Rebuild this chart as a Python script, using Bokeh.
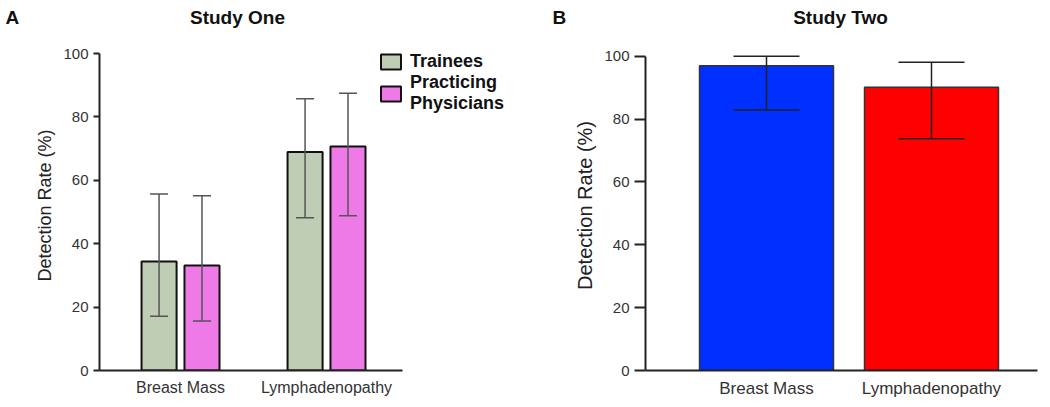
import numpy as np
from bokeh.plotting import figure
from bokeh.models import (Range1d, FixedTicker, Legend, LegendItem, Whisker,
                          TeeHead, ColumnDataSource, Label)
from bokeh.layouts import row, column
from bokeh.embed import file_html
from bokeh.resources import INLINE

# ---------------- data ----------------
categories = ["Breast Mass", "Lymphadenopathy"]
trainees = [34.4, 68.9]
trainees_lower = [17.1, 48.2]
trainees_upper = [55.7, 85.7]
physicians = [33.1, 70.7]
physicians_lower = [15.6, 48.8]
physicians_upper = [55.1, 87.5]
study_two = [97.0, 90.1]
study_two_lower = [82.9, 73.7]
study_two_upper = [100.0, 98.1]
study_two_colors = ["#0030ff", "#ff0000"]
y_ticks = [0, 20, 40, 60, 80, 100]
panel_letters = ["A", "B"]
panel_titles = ["Study One", "Study Two"]

FONT = "Liberation Sans"
xs = np.arange(len(categories)) + 1.0


def style(p, tick_len, tick_size, cat_size, label_size, label_standoff):
    p.xgrid.visible = False
    p.ygrid.visible = False
    p.outline_line_color = None
    p.background_fill_color = "white"
    p.border_fill_color = "white"
    p.yaxis.ticker = FixedTicker(ticks=y_ticks)
    p.yaxis.bounds = (0, 100)
    p.xaxis.ticker = FixedTicker(ticks=list(xs))
    p.xaxis.major_label_overrides = {float(x): c for x, c in zip(xs, categories)}
    for ax in (p.xaxis[0], p.yaxis[0]):
        ax.axis_line_width = 2
        ax.axis_line_color = "#222222"
        ax.major_tick_line_width = 2
        ax.major_tick_line_color = "#222222"
        ax.minor_tick_line_color = None
        ax.major_label_text_font = FONT
        ax.major_label_text_color = "#333333"
        ax.axis_label_text_font = FONT
        ax.axis_label_text_font_style = "normal"
        ax.axis_label_text_color = "#222222"
    p.xaxis.major_tick_out = 0
    p.xaxis.major_tick_in = 0
    p.xaxis.major_label_standoff = 8
    p.xaxis.major_label_text_font_size = cat_size
    p.yaxis.major_tick_out = tick_len
    p.yaxis.major_tick_in = 0
    p.yaxis.major_label_standoff = 5
    p.yaxis.major_label_text_font_size = tick_size
    p.yaxis.axis_label = "Detection Rate (%)"
    p.yaxis.axis_label_text_font_size = label_size
    p.yaxis.axis_label_standoff = label_standoff


# ---------------- header (panel letters and titles) ----------------
header = figure(width=1048, height=40, output_backend="svg", toolbar_location=None,
                x_range=Range1d(0, 1048), y_range=Range1d(40, 0),
                x_axis_type=None, y_axis_type=None, min_border=0)
header.outline_line_color = None
header.xgrid.visible = False
header.ygrid.visible = False
for txt, xpos, align in [(panel_letters[0], 5, "left"), (panel_titles[0], 237, "center"),
                         (panel_letters[1], 552, "left"), (panel_titles[1], 840, "center")]:
    header.add_layout(Label(x=xpos, y=17, text=txt, text_font=FONT, text_font_size="19px",
                            text_font_style="bold", text_baseline="middle",
                            text_align=align, text_color="#111111"))

# ---------------- panel A ----------------
pA = figure(frame_width=418, frame_height=330, output_backend="svg", toolbar_location=None,
            x_range=Range1d(0.445, 3.308), y_range=Range1d(0, 330 / 3.17),
            min_border_left=99, min_border_right=0,
            min_border_top=0, min_border_bottom=35)
style(pA, 6, "15px", "16px", "18px", 5)
pA.xaxis.bounds = (0.445, 2.52)

off = 0.147
srcT = ColumnDataSource(dict(x=xs - off, top=trainees, lo=trainees_lower, hi=trainees_upper))
srcP = ColumnDataSource(dict(x=xs + off, top=physicians, lo=physicians_lower, hi=physicians_upper))
rT = pA.vbar(x="x", top="top", width=0.24, bottom=0, source=srcT,
             fill_color="#bfcdb5", line_color="#111111", line_width=2)
rP = pA.vbar(x="x", top="top", width=0.24, bottom=0, source=srcP,
             fill_color="#ee7ae8", line_color="#111111", line_width=2)
for src in (srcT, srcP):
    pA.add_layout(Whisker(source=src, base="x", upper="hi", lower="lo", level="overlay",
                          line_color="#555555", line_width=1.5,
                          upper_head=TeeHead(size=18, line_color="#555555", line_width=1.5),
                          lower_head=TeeHead(size=18, line_color="#555555", line_width=1.5)))

legend = Legend(items=[LegendItem(label="Trainees", renderers=[rT]),
                       LegendItem(label="Practicing\nPhysicians", renderers=[rP])],
                location=(279, 256), glyph_width=25, glyph_height=19,
                label_text_font=FONT, label_text_font_size="18px",
                label_text_font_style="bold", label_text_color="#111111",
                label_standoff=7, spacing=0, padding=0, margin=0,
                border_line_color=None, background_fill_alpha=0)
pA.add_layout(legend, "center")

# ---------------- panel B ----------------
pB = figure(frame_width=392, frame_height=330, output_backend="svg", toolbar_location=None,
            x_range=Range1d(0.2667, 2.6424), y_range=Range1d(0, 330 / 3.143),
            min_border_left=128, min_border_right=11,
            min_border_top=0, min_border_bottom=35)
style(pB, 11, "15px", "17px", "20px", 5)

srcB = ColumnDataSource(dict(x=xs, top=study_two, lo=study_two_lower, hi=study_two_upper,
                             color=study_two_colors))
pB.vbar(x="x", top="top", width=0.812, bottom=0, source=srcB,
        fill_color="color", line_color="#333333", line_width=1.5)
pB.add_layout(Whisker(source=srcB, base="x", upper="hi", lower="lo", level="overlay",
                      line_color="#222222", line_width=1.5,
                      upper_head=TeeHead(size=66, line_color="#222222", line_width=1.5),
                      lower_head=TeeHead(size=66, line_color="#222222", line_width=1.5)))

layout = column(header, row(pA, pB))
open("out.html", "w").write(file_html(layout, INLINE))
